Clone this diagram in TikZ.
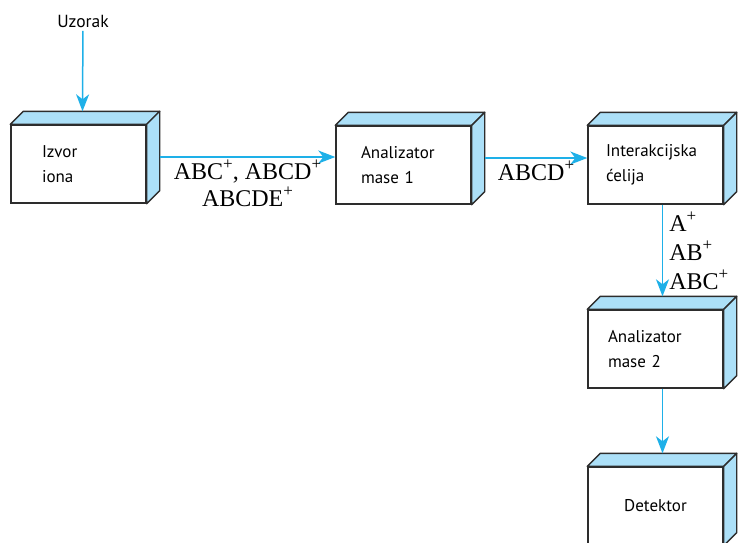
\documentclass[tikz,border=0pt]{standalone}
\usepackage{fontspec}
\setmainfont{Liberation Serif}
\setsansfont{PT Sans}
\usetikzlibrary{arrows.meta}

\definecolor{rub}{RGB}{45,45,45}
\definecolor{plavo}{RGB}{172,224,248}
\definecolor{strelica}{RGB}{30,176,232}

\newcommand{\plus}{\raisebox{0.42em}{\fontsize{17}{17}\selectfont +}}

\tikzset{
	blok/.style={draw=rub, line width=1.4pt, fill=white, minimum width=135pt, minimum height=78pt,
		inner xsep=0pt, text width=#1, align=left, font=\sffamily\fontsize{17}{25}\selectfont},
	blok/.default=90pt,
	strana/.style={draw=rub, line width=1.4pt, fill=plavo, line join=round},
	tok/.style={draw=strelica, line width=1.5pt, -{Stealth[length=17pt,width=13pt,inset=5pt]}},
	ion/.style={font=\fontsize{24}{27}\selectfont, inner sep=2pt},
}

\begin{document}
\begin{tikzpicture}[x=1pt,y=-1pt]
	\path[use as bounding box, clip] (0,0) rectangle (743,542);
	
	% Draw nodes
	\node[font=\sffamily\fontsize{17.5}{20}\selectfont] (uzorak) at (83,21) {Uzorak};
	\node[blok=73pt] (izvor) at (78.5,164) {Izvor\\iona};
	\node[blok=85pt] (anal1) at (403.5,165) {Analizator\\mase 1};
	\node[blok=99pt] (celija) at (655.5,165) {Interakcijska\\ćelija};
	\node[blok=95pt] (anal2) at (655.5,349) {Analizator\\mase 2};
	\node[blok=73pt, align=center] (detektor) at (655.5,506) {Detektor};
	
	% Draw top and side faces
	\foreach \n in {izvor,anal1,celija,anal2,detektor} {
		\draw[strana] (\n.north west) -- ++(13,-13) -- ([shift={(13,-13)}]\n.north east) -- (\n.north east) -- cycle;
		\draw[strana] (\n.north east) -- ++(13,-13) -- ([shift={(13,-13)}]\n.south east) -- (\n.south east) -- cycle;
	}
	
	% Points where the arrows meet the boxes
	\coordinate (izvor-vrh) at ([shift={(4,-13)}]izvor.north);
	\coordinate (izvor-bok) at ([shift={(13,-7)}]izvor.east);
	\coordinate (anal1-bok) at ([shift={(13,-7)}]anal1.east);
	\coordinate (anal2-vrh) at ([shift={(7,-13)}]anal2.north);
	\coordinate (detektor-vrh) at ([shift={(7,-13)}]detektor.north);
	
	% Draw arrows
	\draw[tok] (uzorak) -- (izvor-vrh);
	\draw[tok] (izvor-bok) -- (anal1.west |- izvor-bok)
		node[ion, midway, below, align=center] {ABC\plus, ABCD\plus\\ABCDE\plus};
	\draw[tok] (anal1-bok) -- (celija.west |- anal1-bok)
		node[ion, midway, below] {ABCD\plus};
	\draw[tok] ([xshift=7pt]celija.south) -- (anal2-vrh)
		node[ion, midway, right, align=left, xshift=4pt, font=\fontsize{24}{29}\selectfont] {A\plus\\AB\plus\\ABC\plus};
	\draw[tok] ([xshift=7pt]anal2.south) -- (detektor-vrh);
	
\end{tikzpicture}
\end{document}
